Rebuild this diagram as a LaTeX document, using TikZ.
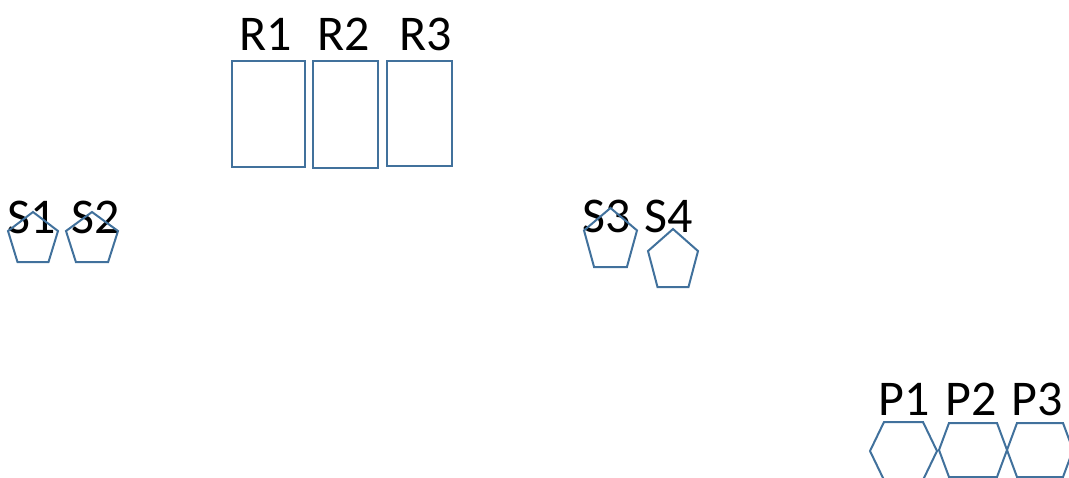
\documentclass[tikz,border=0pt]{standalone}
\usepackage{fontspec}
\setmainfont{Carlito}
\definecolor{shapeblue}{HTML}{41719C}

% pentagon: left, top, width, height
\newcommand{\pentpath}[4]{%
    \draw[outline] ({#1+#3/2},{#2}) -- ({#1+#3},{#2+0.38*#4}) -- ({#1+0.81*#3},{#2+#4})
        -- ({#1+0.19*#3},{#2+#4}) -- ({#1},{#2+0.38*#4}) -- cycle;}
% hexagon: left, top, width, height, inset
\newcommand{\hexpath}[5]{%
    \draw[outline] ({#1+#5},{#2}) -- ({#1+#3-#5},{#2}) -- ({#1+#3},{#2+#4/2})
        -- ({#1+#3-#5},{#2+#4}) -- ({#1+#5},{#2+#4}) -- ({#1},{#2+#4/2}) -- cycle;}

\begin{document}
\begin{tikzpicture}[x=1pt, y=-1pt]
    \useasboundingbox (0,0) rectangle (1069,477);
    \begin{scope}
        \tikzset{outline/.style={draw=shapeblue, line width=2pt, line join=miter},
                 box/.style={outline, rectangle, inner sep=0pt},
                 tag/.style={anchor=base, inner sep=0pt, font=\fontsize{50}{50}\selectfont}}
        % Draw the boxes R1, R2, R3
        \node [box, minimum width=73pt, minimum height=106pt] (R1) at (268.5,114) {};
        \node [box, minimum width=65pt, minimum height=107pt] (R2) at (345.5,114.5) {};
        \node [box, minimum width=65pt, minimum height=105pt] (R3) at (419.5,113.5) {};

        % Label the boxes
        \node [tag] (R1 label) at (266,50) {R1};
        \node [tag] (R2 label) at (344,50) {R2};
        \node [tag] (R3 label) at (426,50) {R3};

        % Label the pentagons
        \node [tag] (S1 label) at (32,233) {S1};
        \node [tag] (S2 label) at (96,233) {S2};
        \node [tag] (S3 label) at (607,232) {S3};
        \node [tag] (S4 label) at (669,232) {S4};

        % Draw the pentagons S1 to S4
        \pentpath{8}{212}{50}{50}
        \pentpath{66}{212}{52}{50}
        \pentpath{584}{208}{53}{59}
        \pentpath{648}{229}{50}{58}

        % Label the hexagons
        \node [tag] (P1 label) at (904,415) {P1};
        \node [tag] (P2 label) at (971,415) {P2};
        \node [tag] (P3 label) at (1037,415) {P3};

        % Draw the hexagons P1 to P3
        \hexpath{870}{422}{67}{58}{14}
        \hexpath{939}{423}{68}{54}{10}
        \hexpath{1007}{423}{66}{54}{10}
    \end{scope}
\end{tikzpicture}
\end{document}
